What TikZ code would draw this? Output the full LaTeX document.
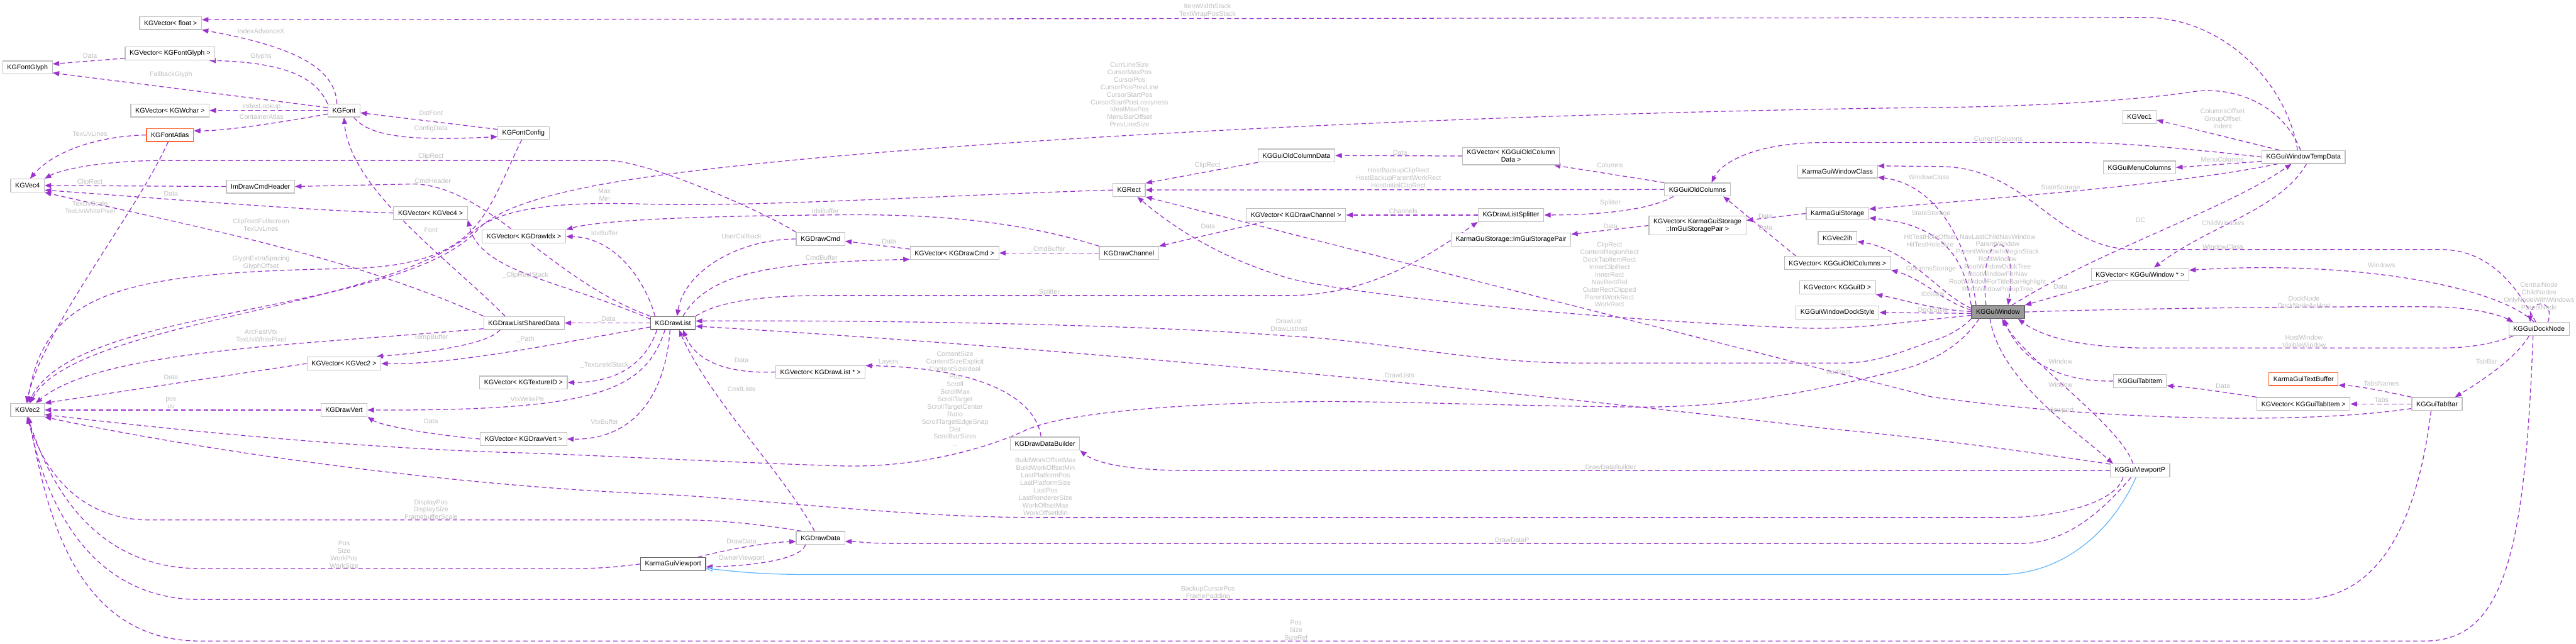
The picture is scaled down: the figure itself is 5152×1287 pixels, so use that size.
\documentclass[tikz,border=0pt]{standalone}
\usepackage{fontspec}
\setmainfont{Liberation Sans}
\usepackage{tikz}
\usetikzlibrary{arrows.meta,backgrounds}

\definecolor{relpurple}{HTML}{9A32CD}
\definecolor{inhblue}{HTML}{63B8FF}
\definecolor{boxgrey}{HTML}{BFBFBF}
\definecolor{lblgrey}{HTML}{BEBEBE}
\definecolor{truncred}{HTML}{FF6633}
\definecolor{focusfill}{HTML}{999999}
\definecolor{darkedge}{HTML}{666666}

\begin{document}
\begin{tikzpicture}[
  x=0.5pt, y=-0.5pt,
  cls/.style={draw=boxgrey, fill=white, line width=0.8pt, font=\fontsize{6.7}{7.5}\selectfont, inner xsep=4.5pt, inner ysep=2.5pt, minimum height=13pt, align=center},
  docd/.style={cls, draw=darkedge},
  trunc/.style={cls, draw=truncred},
  focus/.style={cls, draw=darkedge, fill=focusfill},
  rel/.style={draw=relpurple, line width=0.8pt, dash pattern=on 4.5pt off 3pt, -{Triangle[length=6.5pt,width=5pt]}},
  inh/.style={draw=inhblue, line width=0.8pt, -{Triangle[open,length=6.5pt,width=5pt]}},
  lbl/.style={font=\fontsize{6.7}{7.5}\selectfont, text=lblgrey, align=center, inner sep=0pt}
]
\useasboundingbox (0,0) rectangle (5152,1287);

% classes
\node[cls] (float) at (341,46) {KGVector< float >};
\node[cls] (fglyphvec) at (340,107) {KGVector< KGFontGlyph >};
\node[cls] (fglyph) at (55,135) {KGFontGlyph};
\node[cls] (wcharvec) at (340,221) {KGVector< KGWchar >};
\node[cls] (font) at (688,221) {KGFont};
\node[trunc] (atlas) at (340,270) {KGFontAtlas};
\node[cls] (fconfig) at (1047,266) {KGFontConfig};
\node[cls] (vec4) at (55,371) {KGVec4};
\node[cls] (cmdheader) at (521,373) {ImDrawCmdHeader};
\node[cls] (vec4vec) at (861,426) {KGVector< KGVec4 >};
\node[cls] (idxvec) at (1048,473) {KGVector< KGDrawIdx >};
\node[cls] (shared) at (1048,646) {KGDrawListSharedData};
\node[cls] (vec2vec) at (688,727) {KGVector< KGVec2 >};
\node[cls] (texidvec) at (1047,765) {KGVector< KGTextureID >};
\node[cls] (vec2) at (55,820) {KGVec2};
\node[cls] (drawvert) at (688,820) {KGDrawVert};
\node[cls] (vertvec) at (1047,878) {KGVector< KGDrawVert >};
\node[docd] (drawlist) at (1346,646) {KGDrawList};
\node[cls] (drawcmd) at (1641,478) {KGDrawCmd};
\node[cls] (cmdvec) at (1909,506) {KGVector< KGDrawCmd >};
\node[cls] (channel) at (2258,506) {KGDrawChannel};
\node[cls] (listvec) at (1641,744) {KGVector< KGDrawList * >};
\node[cls] (drawdata) at (1641,1076) {KGDrawData};
\node[docd] (viewport) at (1346,1128) {KarmaGuiViewport};
\node[cls] (builder) at (2090,887) {KGDrawDataBuilder};
\node[cls] (rect) at (2258,380) {KGRect};
\node[cls] (coldata) at (2593,311) {KGGuiOldColumnData};
\node[cls] (channelvec) at (2592,430) {KGVector< KGDrawChannel >};
\node[cls] (coldatavec) at (3022,312) {KGVector< KGGuiOldColumn\\Data >};
\node[cls] (splitter) at (3022,430) {KGDrawListSplitter};
\node[cls] (pair) at (3022,479) {KarmaGuiStorage::ImGuiStoragePair};
\node[cls] (oldcols) at (3395,379) {KGGuiOldColumns};
\node[cls] (pairvec) at (3395,451) {KGVector< KarmaGuiStorage\\::ImGuiStoragePair >};
\node[cls] (wclass) at (3675,343) {KarmaGuiWindowClass};
\node[cls] (storage) at (3675,427) {KarmaGuiStorage};
\node[cls] (vec2ih) at (3675,476) {KGVec2ih};
\node[cls] (oldcolsvec) at (3675,526) {KGVector< KGGuiOldColumns >};
\node[cls] (idvec) at (3675,575) {KGVector< KGGuiID >};
\node[cls] (dockstyle) at (3675,625) {KGGuiWindowDockStyle};
\node[focus] (window) at (3996,624) {KGGuiWindow};
\node[cls] (vec1) at (4279,234) {KGVec1};
\node[cls] (tempdata) at (4607,314) {KGGuiWindowTempData};
\node[cls] (menucols) at (4279,335) {KGGuiMenuColumns};
\node[cls] (windowvec) at (4280,549) {KGVector< KGGuiWindow * >};
\node[cls] (tabitem) at (4280,762) {KGGuiTabItem};
\node[cls] (viewportp) at (4280,941) {KGGuiViewportP};
\node[trunc] (textbuf) at (4607,758) {KarmaGuiTextBuffer};
\node[cls] (tabitemvec) at (4607,808) {KGVector< KGGuiTabItem >};
\node[cls] (tabbar) at (4874,808) {KGGuiTabBar};
\node[cls] (dock) at (5078,658) {KGGuiDockNode};

% member labels
\node[lbl] (lIndexAdvanceX) at (522,63) {IndexAdvanceX};
\node[lbl] (lItemWidth) at (2415,21) {ItemWidthStack\\TextWrapPosStack};
\node[lbl] (lGlyphData) at (180,112) {Data};
\node[lbl] (lGlyphs) at (522,113) {Glyphs};
\node[lbl] (lFallback) at (342,149) {FallbackGlyph};
\node[lbl] (lIndexLookup) at (523,214) {IndexLookup};
\node[lbl] (lContainer) at (523,234) {ContainerAtlas};
\node[lbl] (lDstFont) at (862,226) {DstFont};
\node[lbl] (lConfigData) at (862,258) {ConfigData};
\node[lbl] (lTexUvLinesA) at (180,267) {TexUvLines};
\node[lbl] (lClipRectCmd) at (862,313) {ClipRect};
\node[lbl] (lClipRectHdr) at (180,364) {ClipRect};
\node[lbl] (lCmdHeader) at (862,363) {\_CmdHeader};
\node[lbl] (lVec4Data) at (342,387) {Data};
\node[lbl] (lMaxMin) at (1209,390) {Max\\Min};
\node[lbl] (lTexUvScale) at (180,415) {TexUvScale\\TexUvWhitePixel};
\node[lbl] (lCurrLine) at (2259,189) {CurrLineSize\\CursorMaxPos\\CursorPos\\CursorPosPrevLine\\CursorStartPos\\CursorStartPosLossyness\\IdealMaxPos\\MenuBarOffset\\PrevLineSize};
\node[lbl] (lColClipRect) at (2415,331) {ClipRect};
\node[lbl] (lIdxBufCh) at (1647,423) {\_IdxBuffer};
\node[lbl] (lColData) at (2800,305) {Data};
\node[lbl] (lColumns) at (3220,331) {Columns};
\node[lbl] (lHostRects) at (2797,357) {HostBackupClipRect\\HostBackupParentWorkRect\\HostInitialClipRect};
\node[lbl] (lWinClassA) at (3858,354) {WindowClass};
\node[lbl] (lSplitterCol) at (3221,406) {Splitter};
\node[lbl] (lChannels) at (2803,423) {\_Channels};
\node[lbl] (lPairVecData) at (3531,432) {Data};
\node[lbl] (lStateWin) at (3862,427) {StateStorage};
\node[lbl] (lIndent) at (4445,237) {ColumnsOffset\\GroupOffset\\Indent};
\node[lbl] (lCurCols) at (3997,278) {CurrentColumns};
\node[lbl] (lMenuCols) at (4445,319) {MenuColumns};
\node[lbl] (lStateTmp) at (4121,376) {StateStorage};
\node[lbl] (lIdxBuf) at (1209,466) {IdxBuffer};
\node[lbl] (lClipFull) at (522,450) {ClipRectFullscreen\\TexUvLines};
\node[lbl] (lFont) at (862,460) {Font};
\node[lbl] (lGlyphExtra) at (522,525) {GlyphExtraSpacing\\GlyphOffset};
\node[lbl] (lClipStack) at (1051,551) {\_ClipRectStack};
\node[lbl] (lSharedData) at (1213,639) {\_Data};
\node[lbl] (lArcFast) at (522,672) {ArcFastVtx\\TexUvWhitePixel};
\node[lbl] (lTempBuf) at (862,675) {TempBuffer};
\node[lbl] (lPath) at (1051,679) {\_Path};
\node[lbl] (lTexStack) at (1209,731) {\_TextureIdStack};
\node[lbl] (lVec2Data) at (342,755) {Data};
\node[lbl] (lPosUv) at (342,806) {pos\\uv};
\node[lbl] (lVtxWrite) at (1051,800) {\_VtxWritePtr};
\node[lbl] (lVertData) at (862,843) {Data};
\node[lbl] (lVtxBuf) at (1209,843) {VtxBuffer};
\node[lbl] (lUserCb) at (1483,473) {UserCallback};
\node[lbl] (lCmdData) at (1778,483) {Data};
\node[lbl] (lCmdBufList) at (1643,515) {CmdBuffer};
\node[lbl] (lCmdBufCh) at (2095,499) {\_CmdBuffer};
\node[lbl] (lChData) at (2416,453) {Data};
\node[lbl] (lSplitterList) at (2095,584) {\_Splitter};
\node[lbl] (lDrawList) at (2578,650) {DrawList\\DrawListInst};
\node[lbl] (lListData) at (1483,720) {Data};
\node[lbl] (lLayers) at (1777,725) {Layers};
\node[lbl] (lCmdLists) at (1483,778) {CmdLists};
\node[lbl] (lContent) at (1910,798) {ContentSize\\ContentSizeExplicit\\ContentSizeIdeal\\Pos\\Scroll\\ScrollMax\\ScrollTarget\\ScrollTargetCenter\\Ratio\\ScrollTargetEdgeSnap\\Dist\\ScrollbarSizes\\...};
\node[lbl] (lPairData) at (3221,453) {Data};
\node[lbl] (lHitTest) at (3860,481) {HitTestHoleOffset\\HitTestHoleSize};
\node[lbl] (lColStorage) at (3862,538) {ColumnsStorage};
\node[lbl] (lIDStack) at (3866,588) {IDStack};
\node[lbl] (lDockStyle) at (3866,621) {DockStyle};
\node[lbl] (lWinRects) at (3219,549) {ClipRect\\ContentRegionRect\\DockTabItemRect\\InnerClipRect\\InnerRect\\NavRectRel\\OuterRectClipped\\ParentWorkRect\\WorkRect};
\node[lbl] (lDrawLists) at (2799,751) {DrawLists};
\node[lbl] (lBarRect) at (3677,745) {BarRect};
\node[lbl] (lColVecData) at (3531,455) {Data};
\node[lbl] (lDC) at (4281,440) {DC};
\node[lbl] (lChildWin) at (4446,446) {ChildWindows};
\node[lbl] (lWinClassB) at (4446,494) {WindowClass};
\node[lbl] (lWinPtrs) at (3995,527) {NavLastChildNavWindow\\ParentWindow\\ParentWindowInBeginStack\\RootWindow\\RootWindowDockTree\\RootWindowForNav\\RootWindowForTitleBarHighlight\\RootWindowPopupTree};
\node[lbl] (lWindows) at (4763,531) {Windows};
\node[lbl] (lWinVecData) at (4121,573) {Data};
\node[lbl] (lDockNode) at (4608,604) {DockNode\\DockNodeAsHost};
\node[lbl] (lDockPtrs) at (5078,592) {CentralNode\\ChildNodes\\OnlyNodeWithWindows\\ParentNode};
\node[lbl] (lHostWin) at (4608,683) {HostWindow\\VisibleWindow};
\node[lbl] (lTabWin) at (4121,723) {Window};
\node[lbl] (lTabBar) at (4973,723) {TabBar};
\node[lbl] (lTabsNames) at (4763,767) {TabsNames};
\node[lbl] (lTabData) at (4446,772) {Data};
\node[lbl] (lTabs) at (4763,800) {Tabs};
\node[lbl] (lVpWin) at (4121,770) {Window};
\node[lbl] (lViewport) at (4121,821) {Viewport};
\node[lbl] (lDisplay) at (862,1019) {DisplayPos\\DisplaySize\\FramebufferScale};
\node[lbl] (lVpPos) at (688,1109) {Pos\\Size\\WorkPos\\WorkSize};
\node[lbl] (lBuildWork) at (2091,973) {BuildWorkOffsetMax\\BuildWorkOffsetMin\\LastPlatformPos\\LastPlatformSize\\LastPos\\LastRendererSize\\WorkOffsetMax\\WorkOffsetMin};
\node[lbl] (lDrawData) at (1483,1083) {DrawData};
\node[lbl] (lOwnerVp) at (1483,1116) {OwnerViewport};
\node[lbl] (lBackup) at (2416,1186) {BackupCursorPos\\FramePadding};
\node[lbl] (lBuilder) at (3221,934) {DrawDataBuilder};
\node[lbl] (lDrawDataP) at (3024,1080) {DrawDataP};
\node[lbl] (lDockPos) at (2592,1260) {Pos\\Size\\SizeRef};

\begin{scope}[on background layer]
% font block
\draw[rel] ([xshift=-7pt]font.north) .. controls (670,140) and (600,95) .. (float.south east);
\draw[rel] ([xshift=-6pt]tempdata.north) .. controls (4575,170) and (4450,35) .. (4290,35) -- (float.6);
\draw[rel] (fglyphvec.186) -- (fglyph.8);
\draw[rel] (font.north west) .. controls (630,150) and (560,125) .. (fglyphvec.-10);
\draw[rel] (font.170) -- (fglyph.-12);
\draw[rel] (font.west) -- (wcharvec.east);
\draw[rel] (font.192) .. controls (560,245) and (450,262) .. (atlas.10);
\draw[rel] (fconfig.172) -- (font.-8);
\draw[rel] (font.-35) .. controls (740,275) and (830,282) .. (fconfig.188);
\draw[rel] (atlas.west) .. controls (200,272) and (110,300) .. (vec4.70);
\draw[rel] (drawcmd.north west) .. controls (1540,430) and (1300,321) .. (1215,321) -- (330,321) .. controls (200,321) and (120,340) .. (vec4.north east);
\draw[rel] (cmdheader.west) -- (vec4.east);
\draw[rel] (vec4vec.west) .. controls (600,420) and (300,395) .. (vec4.-15);
\draw[rel] (atlas.-105) .. controls (270,430) and (90,650) .. (vec2.100);
\draw[rel] (shared.north west) .. controls (700,510) and (350,445) .. (vec4.south east);
\draw[rel] (drawlist.north west) .. controls (1100,560) and (980,375) .. (830,368) -- (cmdheader.east);
\draw[rel] ([xshift=-19pt]shared.north) .. controls (900,520) and (700,380) .. (font.south);
\draw[rel] (fconfig.-105) .. controls (970,430) and (960,530) .. (700,537) .. controls (250,545) and (90,580) .. (vec2.90);
% draw list block
\draw[rel] ([xshift=-18pt]drawlist.north) .. controls (1290,560) and (1230,475) .. (idxvec.east);
\draw[rel] (channel.north west) .. controls (2000,430) and (1800,428) .. (1647,430) .. controls (1400,432) and (1200,440) .. (idxvec.north east);
\draw[rel] (drawlist.170) .. controls (1120,560) and (960,545) .. (vec4vec.south east);
\draw[rel] (drawlist.west) -- (shared.east);
\draw[rel] (shared.-172) .. controls (600,690) and (200,700) .. (vec2.40);
\draw[rel] ([xshift=-24pt]shared.south) .. controls (975,690) and (850,705) .. (vec2vec.12);
\draw[rel] (drawlist.190) .. controls (1100,690) and (900,730) .. (vec2vec.east);
\draw[rel] ([xshift=-16pt]drawlist.south) .. controls (1290,730) and (1230,765) .. (texidvec.east);
\draw[rel] (vec2vec.west) -- (vec2.north east);
\draw[rel] (drawvert.west) -- (vec2.east);
\draw[rel] ([xshift=-8pt]drawlist.south) .. controls (1290,780) and (1200,822) .. (drawvert.east);
\draw[rel] (vertvec.west) .. controls (850,868) and (760,850) .. (drawvert.south east);
\draw[rel] ([xshift=-3pt]drawlist.south) .. controls (1330,800) and (1260,880) .. (vertvec.east);
\draw[rel] (drawcmd.west) .. controls (1480,478) and (1370,540) .. ([xshift=4pt]drawlist.north);
\draw[rel] (cmdvec.175) -- (drawcmd.-5);
\draw[rel] ([xshift=10pt]drawlist.north) .. controls (1420,540) and (1560,525) .. (cmdvec.188);
\draw[rel] (channel.west) -- (cmdvec.east);
\draw[rel] ([xshift=18pt]channelvec.south west) -- (channel.north east);
\draw[rel] (drawlist.north east) .. controls (1440,600) and (1540,591) .. (1650,591) -- (2576,591) .. controls (2740,591) and (2860,510) .. (splitter.south west);
\draw[rel] (splitter.west) -- (channelvec.east);
\draw[rel] ([xshift=-24pt]oldcols.south) .. controls (3300,420) and (3200,430) .. (splitter.east);
\draw[rel] (oldcols.west) -- (rect.east);
\draw[rel] (coldata.south west) -- (rect.north east);
\draw[rel] (coldatavec.west) -- (coldata.east);
\draw[rel] (oldcols.north west) -- (coldatavec.-12);
\draw[rel] (tempdata.west) .. controls (4400,300) and (4250,285) .. (4150,285) -- (3650,285) .. controls (3500,285) and (3440,330) .. ([xshift=14pt]oldcols.north);
\draw[rel] ([xshift=12pt]oldcolsvec.north west) .. controls (3540,470) and (3480,420) .. (oldcols.-15);
\draw[rel] (pairvec.west) -- (pair.5);
\draw[rel] (storage.west) -- (pairvec.6);
% window block
\draw[rel] (window.north west) .. controls (3930,520) and (3890,450) .. (storage.-8);
\draw[rel] (tempdata.-165) .. controls (4350,370) and (4000,395) .. (storage.8);
\draw[rel] ([xshift=-22pt]window.north) .. controls (3940,500) and (3880,370) .. (wclass.-8);
\draw[rel] (dock.115) .. controls (5020,545) and (4960,499) .. (4880,499) -- (4270,499) .. controls (4110,499) and (4060,335) .. (3880,333) -- (wclass.8);
\draw[rel] ([xshift=18pt]tempdata.north west) -- (vec1.-10);
\draw[rel] (tempdata.186) -- (menucols.east);
\draw[rel] ([xshift=-3pt]tempdata.north) .. controls (4565,210) and (4470,170) .. (4381,184) .. controls (4300,197) and (4100,213) .. (3864,215) .. controls (3000,225) and (1800,280) .. (1288,355) .. controls (1130,378) and (1000,410) .. (955,460) .. controls (800,630) and (150,610) .. (vec2.80);
\draw[rel] ([xshift=14pt]window.north) .. controls (4200,500) and (4450,420) .. ([xshift=-12pt]tempdata.south);
\draw[rel] ([xshift=3pt]tempdata.south) .. controls (4560,420) and (4420,450) .. ([xshift=14pt]windowvec.north);
\draw[rel] ([xshift=-32pt]windowvec.south) -- (window.north east);
\draw[rel] (dock.125) .. controls (4990,570) and (4700,520) .. (windowvec.5);
\draw[rel] (window.east) .. controls (4300,615) and (4800,612) .. (4880,614) .. controls (4950,616) and (5000,630) .. (dock.165);
\draw[rel] (dock.-165) .. controls (4980,690) and (4930,696) .. (4880,696) -- (4300,696) .. controls (4150,696) and (4080,670) .. ([xshift=20pt]window.south);
\draw[rel] ([xshift=9pt]dock.north) .. controls (5110,598) and (5062,598) .. ([xshift=-9pt]dock.north);
\draw[rel] ([xshift=-12pt]window.north) .. controls (3955,450) and (4040,450) .. ([xshift=10pt]window.north);
\draw[rel] ([xshift=-10pt]dock.south) .. controls (5030,720) and (4950,770) .. ([xshift=18pt]tabbar.north);
\draw[rel] (tabbar.north west) .. controls (4780,785) and (4720,772) .. (textbuf.-10);
\draw[rel] (tabbar.west) -- (tabitemvec.east);
\draw[rel] (tabitemvec.north west) .. controls (4450,785) and (4390,775) .. (tabitem.-10);
\draw[rel] (tabitem.west) .. controls (4120,765) and (4040,720) .. ([xshift=6pt]window.south);
\draw[rel] ([xshift=-7pt]viewportp.north) .. controls (4240,850) and (4050,720) .. ([xshift=4pt]window.south);
\draw[rel] ([xshift=-8pt]window.south) .. controls (4000,760) and (4150,860) .. ([xshift=-27pt]viewportp.north);
\draw[rel] (window.172) .. controls (3880,590) and (3820,500) .. (vec2ih.-10);
\draw[rel] (window.176) .. controls (3880,600) and (3850,560) .. (oldcolsvec.south east);
\draw[rel] (window.179) .. controls (3870,620) and (3810,600) .. (idvec.south east);
\draw[rel] (window.183) -- (dockstyle.east);
\draw[rel] (window.187) .. controls (3800,645) and (3700,660) .. (3603,656) .. controls (3200,640) and (2700,590) .. (2576,556) .. controls (2420,510) and (2330,440) .. (rect.-40);
\draw[rel] (tabbar.190) .. controls (4600,850) and (4200,840) .. (3864,794) -- (rect.south east);
\draw[rel] (window.200) .. controls (3930,680) and (3880,720) .. (3800,740) .. controls (3600,790) and (3450,815) .. (3274,814) .. controls (3000,812) and (2750,800) .. (2576,804) .. controls (2300,810) and (2120,830) .. (2052,860) .. controls (1990,890) and (1850,935) .. (1690,932) .. controls (1450,925) and (1150,908) .. (1018,905) .. controls (700,895) and (350,860) .. (vec2.-15);
\draw[rel] (window.south west) .. controls (3920,660) and (3890,675) .. (3864,682) .. controls (3800,705) and (3750,726) .. (3685,726) -- (3151,726) .. controls (2950,726) and (2750,680) .. (2576,672) .. controls (2300,650) and (1800,640) .. (drawlist.5);
% viewport block
\draw[rel] (viewportp.168) .. controls (4000,895) and (3800,870) .. (3652,857) .. controls (3100,790) and (2200,700) .. (drawlist.-8);
\draw[rel] (listvec.west) .. controls (1450,748) and (1390,720) .. ([xshift=10pt]drawlist.south);
\draw[rel] ([xshift=-6pt]drawdata.north) .. controls (1570,950) and (1420,800) .. ([xshift=6pt]drawlist.south);
\draw[rel] ([xshift=-4pt]builder.north) .. controls (2070,790) and (1950,735) .. (listvec.8);
\draw[rel] (viewportp.west) -- (2380,941) .. controls (2250,941) and (2190,925) .. (builder.south east);
\draw[rel] ([xshift=-9pt]viewportp.south) .. controls (4190,1040) and (4120,1087) .. (4040,1087) -- (1790,1087) .. controls (1740,1087) and (1715,1083) .. (drawdata.-8);
\draw[rel] ([xshift=-15pt]drawdata.south) .. controls (1600,1120) and (1500,1132) .. (viewport.-5);
\draw[rel] ([xshift=-8pt]viewport.north east) .. controls (1450,1100) and (1530,1085) .. (drawdata.-172);
\draw[inh] ([xshift=-4pt]viewportp.south) .. controls (4220,1070) and (4120,1149) .. (4000,1149) -- (1620,1149) .. controls (1500,1149) and (1450,1140) .. (viewport.-8);
\draw[rel] ([xshift=-17pt]viewportp.south) .. controls (4230,1010) and (4100,1035) .. (4012,1035) -- (2076,1035) .. controls (1800,1035) and (1500,995) .. (1288,987) .. controls (800,965) and (300,880) .. (vec2.south east);
\draw[rel] (drawdata.160) .. controls (1500,1045) and (1420,1040) .. (1370,1040) -- (300,1040) .. controls (130,1040) and (75,900) .. (vec2.-95);
\draw[rel] (viewport.west) .. controls (1230,1134) and (1200,1137) .. (1150,1137) -- (400,1137) .. controls (160,1137) and (85,920) .. (vec2.-90);
\draw[rel] ([xshift=-6pt]tabbar.south) .. controls (4840,1000) and (4780,1199) .. (4600,1199) -- (400,1199) .. controls (150,1199) and (80,950) .. (vec2.-85);
\draw[rel] ([xshift=-6pt]dock.south) .. controls (5050,1100) and (5010,1282) .. (4850,1282) -- (400,1282) .. controls (140,1282) and (90,1000) .. (vec2.-80);
\draw[rel] (rect.west) .. controls (1900,390) and (1500,415) .. (1288,408) .. controls (1100,402) and (1000,420) .. (950,460) .. controls (780,620) and (150,640) .. (vec2.70);
\end{scope}
\end{tikzpicture}
\end{document}
